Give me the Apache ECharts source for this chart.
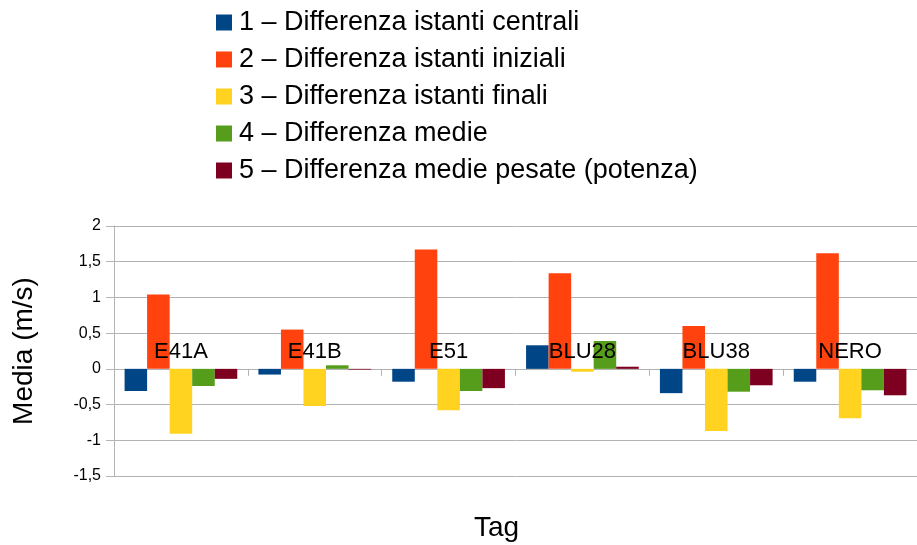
<!DOCTYPE html>
<html>
<head>
<meta charset="utf-8">
<script src="https://cdn.jsdelivr.net/npm/echarts@6/dist/echarts.min.js"></script>
<style>
  html, body { margin: 0; padding: 0; background: #fff; }
  #chart { width: 917px; height: 545px; }
</style>
</head>
<body>
<div id="chart"></div>
<script>
// Tags measured and the five difference methods (m/s)
const categories = ['E41A', 'E41B', 'E51', 'BLU28', 'BLU38', 'NERO'];
const seriesNames = [
  '1 – Differenza istanti centrali',
  '2 – Differenza istanti iniziali',
  '3 – Differenza istanti finali',
  '4 – Differenza medie',
  '5 – Differenza medie pesate (potenza)'
];
const istantiCentrali = [-0.31, -0.08, -0.18, 0.33, -0.34, -0.18];
const istantiIniziali = [1.04, 0.55, 1.67, 1.34, 0.60, 1.62];
const istantiFinali   = [-0.91, -0.52, -0.58, -0.04, -0.87, -0.69];
const medie           = [-0.24, 0.05, -0.31, 0.39, -0.32, -0.30];
const mediePesate     = [-0.14, -0.01, -0.27, 0.03, -0.23, -0.37];
const yTicks = { min: -1.5, max: 2, interval: 0.5 };

const values = [istantiCentrali, istantiIniziali, istantiFinali, medie, mediePesate];
const colors = ['#004586', '#ff420e', '#ffd320', '#579d1c', '#7e0021'];
const font = "'Liberation Sans', Arial, sans-serif";

const gridTop = 226, gridBottom = 69;
const gridHeight = 545 - gridTop - gridBottom;
// lift the category axis from the bottom edge up to the value 0
const zeroOffset = -gridHeight * (0 - yTicks.min) / (yTicks.max - yTicks.min);

const chart = echarts.init(document.getElementById('chart'), null, { renderer: 'canvas' });
chart.setOption({
  animation: false,
  color: colors,
  textStyle: { fontFamily: font },
  legend: {
    orient: 'vertical',
    left: 211,
    top: 4,
    icon: 'rect',
    itemWidth: 16,
    itemHeight: 16,
    itemGap: 10,
    textStyle: { fontSize: 27, color: '#000', fontFamily: font, padding: [0, 0, 0, 2] },
    data: seriesNames
  },
  grid: { left: 114, top: gridTop, width: 812, bottom: gridBottom, containLabel: false },
  xAxis: {
    type: 'category',
    data: categories,
    z: 10,
    offset: zeroOffset,
    axisLine: { show: true, onZero: false, lineStyle: { color: '#b3b3b3', opacity: 0 } },
    axisTick: { show: true, length: 7, lineStyle: { color: '#b3b3b3', opacity: 1 } },
    axisLabel: { fontSize: 22, color: '#000', margin: -28, fontFamily: font }
  },
  yAxis: {
    type: 'value',
    min: yTicks.min,
    max: yTicks.max,
    interval: yTicks.interval,
    name: 'Media (m/s)',
    nameLocation: 'middle',
    nameGap: 76,
    nameTextStyle: { fontSize: 28, color: '#000', fontFamily: font },
    axisLine: { show: true, lineStyle: { color: '#b3b3b3' } },
    axisTick: { show: true, length: 8, lineStyle: { color: '#b3b3b3' } },
    splitLine: { show: true, lineStyle: { color: '#b3b3b3' } },
    axisLabel: {
      fontSize: 16, color: '#000', margin: 13, fontFamily: font,
      formatter: v => String(v).replace('.', ',')
    }
  },
  graphic: [{
    type: 'text',
    left: 474,
    top: 514,
    style: { text: 'Tag', fontSize: 28, fill: '#000', fontFamily: font }
  }],
  series: seriesNames.map((name, i) => ({
    name,
    type: 'bar',
    data: values[i],
    barGap: '0%',
    barCategoryGap: '15.8%',
    itemStyle: { color: colors[i] }
  }))
});
</script>
</body>
</html>
